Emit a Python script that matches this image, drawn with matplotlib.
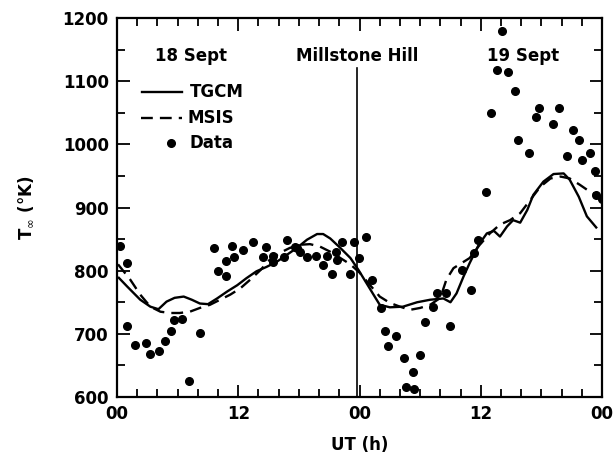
import matplotlib
matplotlib.use("Agg")
import matplotlib.pyplot as plt
from matplotlib.ticker import MultipleLocator, FixedLocator

# Universal time in hours from 00 UT on 18 Sept; temperatures in K
tgcm_ut = [0.1, 1.0, 2.3, 3.3, 4.1, 4.9, 5.7, 6.6, 7.4, 8.2, 9.0, 9.9, 10.9,
           11.9, 12.8, 13.8, 14.8, 15.8, 16.8, 17.8, 18.8, 19.8, 20.4, 21.1,
           22.1, 23.1, 23.9, 24.7, 25.5, 26.0, 27.0, 28.3, 29.7, 31.0, 32.3,
           33.0, 33.6, 34.3, 34.9, 35.8, 36.6, 37.3, 37.9, 38.6, 39.2, 39.9,
           40.6, 41.2, 42.2, 43.2, 44.2, 44.8, 45.7, 46.5, 47.5]
tgcm_temp = [790, 775, 754, 743, 739, 751, 757, 759, 754, 748, 747, 756, 767,
             777, 788, 799, 806, 814, 825, 836, 849, 858, 858, 851,
             836, 820, 801, 780, 759, 746, 742, 743, 750, 754, 756,
             750, 764, 791, 812, 841, 859, 863, 854, 870, 880, 876,
             896, 920, 941, 953, 954, 944, 917, 886, 867]

msis_ut = [0.1, 1.3, 2.3, 3.3, 4.3, 5.3, 6.2, 7.2, 8.2, 9.2, 10.2, 11.2, 12.2,
           13.2, 14.2, 15.1, 16.1, 17.1, 18.1, 19.1, 20.1, 21.1, 22.1, 23.1,
           24.0, 25.0, 26.0, 27.0, 28.0, 29.0, 30.0, 31.0, 32.0, 32.6, 33.3,
           34.1, 34.9, 35.9, 36.9, 37.9, 38.9, 39.9, 40.9, 41.9, 42.9, 43.9,
           44.8, 45.8, 46.8, 47.9]
msis_temp = [810, 786, 762, 743, 735, 733, 733, 735, 741, 746, 754, 762, 772,
             786, 801, 817, 828, 836, 841, 842, 838, 830, 820, 810,
             797, 778, 759, 749, 743, 738, 741, 746, 757, 786, 804,
             812, 820, 841, 859, 873, 880, 891, 912, 933, 946, 949,
             946, 936, 925, 917]

data_ut = [0.3, 1.0, 1.0, 1.8, 2.9, 3.3, 4.2, 4.7, 5.3, 5.6, 6.4, 7.1, 8.2,
           9.6, 10.0, 10.8, 10.8, 11.4, 11.6, 12.5, 13.5, 14.4, 14.7, 15.4,
           15.4, 16.5, 16.8, 17.6, 17.8, 18.1, 18.8, 19.7, 20.4, 20.8, 21.3,
           21.7, 21.8, 22.3, 23.1, 23.5, 23.9, 24.6, 25.2, 26.1, 26.5, 26.8,
           27.6, 28.4, 28.6, 29.3, 29.4, 30.0, 30.5, 31.3, 31.7, 32.6, 33.0,
           34.1, 35.0, 35.3, 35.7, 36.5, 37.0, 37.6, 38.1, 38.7, 39.4, 39.7,
           40.8, 41.5, 41.8, 43.1, 43.7, 44.5, 45.1, 45.7, 46.0, 46.8, 47.3,
           47.4, 48.0]
data_temp = [839, 812, 713, 683, 686, 668, 673, 688, 704, 722, 723, 626, 701,
             836, 800, 815, 792, 839, 821, 833, 846, 822, 838, 823,
             813, 822, 849, 838, 836, 829, 821, 823, 809, 823, 794,
             830, 817, 846, 795, 846, 820, 853, 786, 741, 705, 681,
             696, 661, 616, 639, 613, 667, 718, 742, 765, 765, 712,
             801, 769, 828, 849, 924, 1049, 1117, 1180, 1114, 1085, 1007,
             987, 1043, 1057, 1032, 1057, 982, 1022, 1007, 976, 986, 958,
             920, 913]

hour_labels = ["00", "12", "00", "12", "00"]
midnight = 24

fig = plt.figure(figsize=(6.13, 4.62), dpi=100)
ax = fig.add_axes([0.1909, 0.1407, 0.7912, 0.8203])

font = dict(family="DejaVu Sans", weight="bold")

ax.plot(tgcm_ut, tgcm_temp, color="black", lw=1.7, solid_capstyle="butt")
ax.plot(msis_ut, msis_temp, color="black", lw=1.7, dashes=(5, 3))
ax.plot(data_ut, data_temp, "o", color="black", ms=5.5, mec="black")

# Separator between the two days
ax.plot([midnight - 0.25, midnight - 0.25], [600, 1121], color="black", lw=1.2)

ax.set_xlim(0, 48)
ax.set_ylim(600, 1200)

ax.xaxis.set_major_locator(FixedLocator([0, 12, 24, 36, 48]))
ax.set_xticklabels(hour_labels, fontsize=12, **font)
ax.xaxis.set_minor_locator(MultipleLocator(2))
ax.yaxis.set_major_locator(MultipleLocator(100))
ax.yaxis.set_minor_locator(MultipleLocator(50))
for lab in ax.get_yticklabels():
    lab.set_fontsize(12)
    lab.set_fontweight("bold")
    lab.set_family("DejaVu Sans")

ax.tick_params(which="both", direction="in", top=True, right=True, width=1.3)
ax.tick_params(which="major", length=9, pad=6)
ax.tick_params(which="minor", length=6)
for s in ax.spines.values():
    s.set_linewidth(1.6)

ax.set_xlabel("UT (h)", fontsize=12, labelpad=9, **font)
ax.set_ylabel(r"T$_\infty$ (°K)", fontsize=12, labelpad=20, **font)

# Panel annotations
ax.text(0.152, 0.90, "18 Sept", transform=ax.transAxes, ha="center",
        va="center", fontsize=12, **font)
ax.text(0.495, 0.90, "Millstone Hill", transform=ax.transAxes, ha="center",
        va="center", fontsize=12, **font)
ax.text(0.837, 0.90, "19 Sept", transform=ax.transAxes, ha="center",
        va="center", fontsize=12, **font)

# Key
ax.plot([0.052, 0.134], [0.805, 0.805], transform=ax.transAxes,
        color="black", lw=1.7)
ax.plot([0.050, 0.134], [0.736, 0.736], transform=ax.transAxes,
        color="black", lw=1.7, dashes=(5, 3))
ax.plot([0.111], [0.670], "o", transform=ax.transAxes, color="black", ms=5.5)
ax.text(0.150, 0.805, "TGCM", transform=ax.transAxes, va="center",
        fontsize=12, **font)
ax.text(0.146, 0.736, "MSIS", transform=ax.transAxes, va="center",
        fontsize=12, **font)
ax.text(0.150, 0.670, "Data", transform=ax.transAxes, va="center",
        fontsize=12, **font)

fig.savefig("out.png", dpi=100)
